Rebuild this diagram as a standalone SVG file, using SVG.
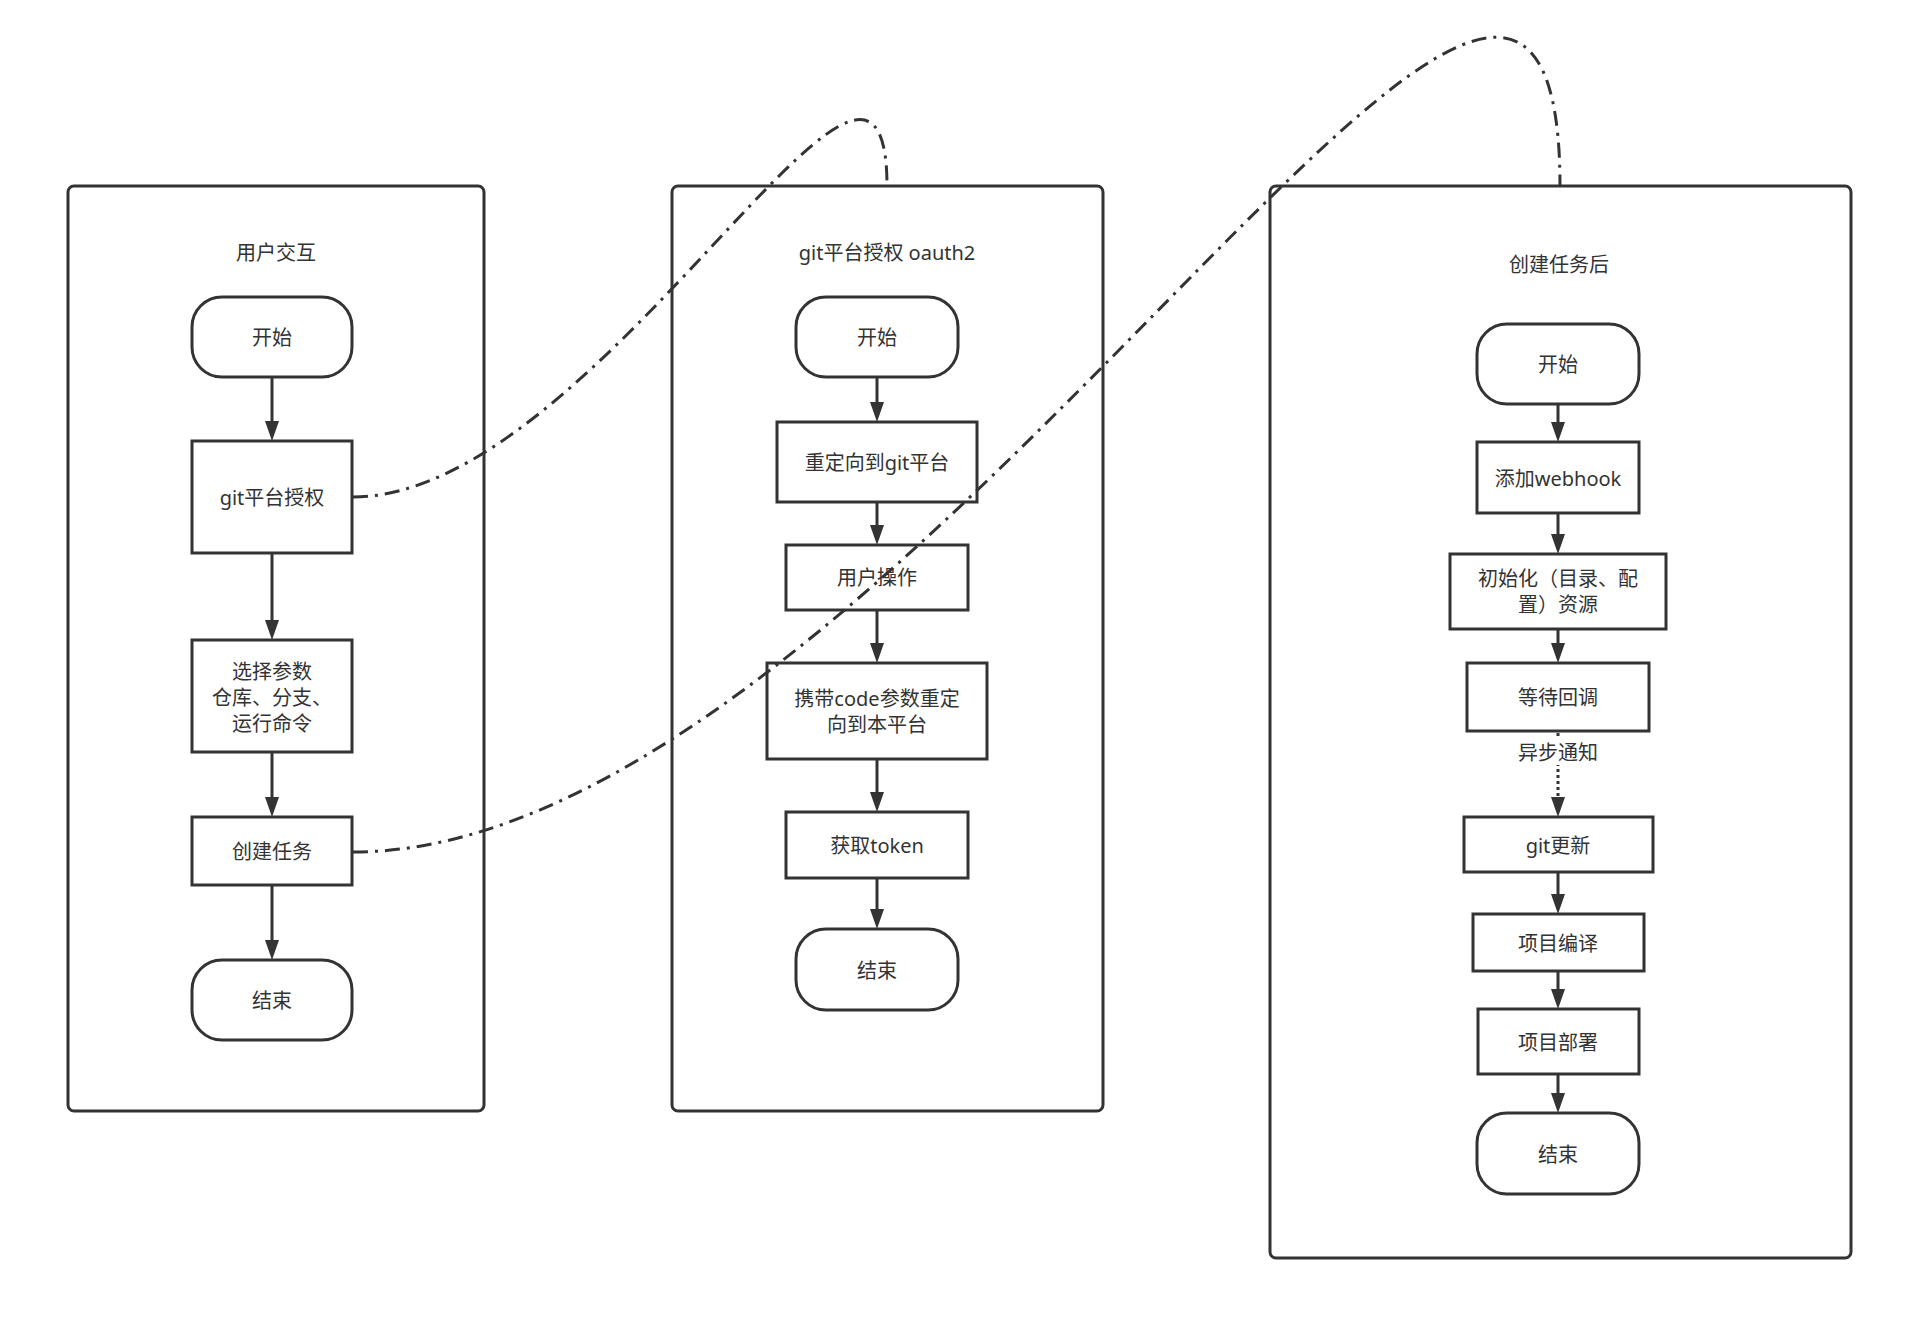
<svg xmlns="http://www.w3.org/2000/svg" width="1916" height="1326" viewBox="0 0 1916 1326">
<defs>
<style>
.bg{fill:#ffffff}
.ct{fill:none;stroke:#333;stroke-width:3}
.nd{fill:#ffffff;stroke:#333;stroke-width:3}
.t{font-family:"Noto Sans","Noto Sans CJK SC",sans-serif;font-size:20px;fill:#333;text-anchor:middle;dominant-baseline:central}
.ln{fill:none;stroke:#333;stroke-width:3}
.dot{fill:none;stroke:#333;stroke-width:3;stroke-dasharray:3 3}
.cv{fill:none;stroke:#333;stroke-width:3;stroke-dasharray:15 7 3 7}
</style>
<marker id="ah" markerUnits="userSpaceOnUse" markerWidth="22" markerHeight="16" refX="2" refY="8" orient="auto" viewBox="0 0 22 16">
<path d="M0,1 L20,8 L0,15 z" fill="#333"/>
</marker>
</defs>
<rect class="bg" x="0" y="0" width="1916" height="1326"/>

<g id="lane-user">
<rect class="ct" x="68" y="186" width="416" height="925" rx="6"/>
<text class="t" x="276" y="252">用户交互</text>
</g>
<g id="lane-oauth">
<rect class="ct" x="672" y="186" width="431" height="925" rx="6"/>
<text class="t" x="887" y="252">git平台授权 oauth2</text>
</g>
<g id="lane-task">
<rect class="ct" x="1270" y="186" width="581" height="1072" rx="6"/>
<text class="t" x="1559" y="264">创建任务后</text>
</g>

<g id="u-start"><rect class="nd" x="192" y="297" width="160" height="80" rx="30"/><text class="t" x="272" y="337">开始</text></g>
<g id="u-auth"><rect class="nd" x="192" y="441" width="160" height="112"/><text class="t" x="272" y="497">git平台授权</text></g>
<g id="u-params"><rect class="nd" x="192" y="640" width="160" height="112"/><text class="t" x="272" y="671">选择参数</text><text class="t" x="272" y="697">仓库、分支、</text><text class="t" x="272" y="723">运行命令</text></g>
<g id="u-create"><rect class="nd" x="192" y="817" width="160" height="68"/><text class="t" x="272" y="851">创建任务</text></g>
<g id="u-end"><rect class="nd" x="192" y="960" width="160" height="80" rx="30"/><text class="t" x="272" y="1000">结束</text></g>

<g id="o-start"><rect class="nd" x="796" y="297" width="162" height="80" rx="30"/><text class="t" x="877" y="337">开始</text></g>
<g id="o-redirect"><rect class="nd" x="777" y="422" width="200" height="80"/><text class="t" x="877" y="462">重定向到git平台</text></g>
<g id="o-user"><rect class="nd" x="786" y="545" width="182" height="65"/><text class="t" x="877" y="577">用户操作</text></g>
<g id="o-code"><rect class="nd" x="767" y="663" width="220" height="96"/><text class="t" x="877" y="698">携带code参数重定</text><text class="t" x="877" y="724">向到本平台</text></g>
<g id="o-token"><rect class="nd" x="786" y="812" width="182" height="66"/><text class="t" x="877" y="845">获取token</text></g>
<g id="o-end"><rect class="nd" x="796" y="929" width="162" height="81" rx="30"/><text class="t" x="877" y="970">结束</text></g>

<g id="t-start"><rect class="nd" x="1477" y="324" width="162" height="80" rx="30"/><text class="t" x="1558" y="364">开始</text></g>
<g id="t-webhook"><rect class="nd" x="1477" y="442" width="162" height="71"/><text class="t" x="1558" y="478">添加webhook</text></g>
<g id="t-init"><rect class="nd" x="1450" y="554" width="216" height="75"/><text class="t" x="1558" y="578">初始化（目录、配</text><text class="t" x="1558" y="604">置）资源</text></g>
<g id="t-wait"><rect class="nd" x="1467" y="663" width="182" height="68"/><text class="t" x="1558" y="697">等待回调</text></g>
<g id="t-git"><rect class="nd" x="1464" y="817" width="189" height="55"/><text class="t" x="1558" y="845">git更新</text></g>
<g id="t-build"><rect class="nd" x="1473" y="914" width="171" height="57"/><text class="t" x="1558" y="943">项目编译</text></g>
<g id="t-deploy"><rect class="nd" x="1478" y="1009" width="161" height="65"/><text class="t" x="1558" y="1042">项目部署</text></g>
<g id="t-end"><rect class="nd" x="1477" y="1113" width="162" height="81" rx="30"/><text class="t" x="1558" y="1154">结束</text></g>

<g id="connectors">
<path class="ln" d="M272,377 V423" marker-end="url(#ah)"/>
<path class="ln" d="M272,553 V622" marker-end="url(#ah)"/>
<path class="ln" d="M272,752 V799" marker-end="url(#ah)"/>
<path class="ln" d="M272,885 V942" marker-end="url(#ah)"/>

<path class="ln" d="M877,377 V404" marker-end="url(#ah)"/>
<path class="ln" d="M877,502 V527" marker-end="url(#ah)"/>
<path class="ln" d="M877,610 V645" marker-end="url(#ah)"/>
<path class="ln" d="M877,759 V794" marker-end="url(#ah)"/>
<path class="ln" d="M877,878 V911" marker-end="url(#ah)"/>

<path class="ln" d="M1558,404 V424" marker-end="url(#ah)"/>
<path class="ln" d="M1558,513 V536" marker-end="url(#ah)"/>
<path class="ln" d="M1558,629 V645" marker-end="url(#ah)"/>
<path class="dot" d="M1558,733 V799" marker-end="url(#ah)"/>
<rect class="bg" x="1516" y="739" width="84" height="26"/>
<text class="t" x="1558" y="752">异步通知</text>
<path class="ln" d="M1558,872 V896" marker-end="url(#ah)"/>
<path class="ln" d="M1558,971 V991" marker-end="url(#ah)"/>
<path class="ln" d="M1558,1074 V1095" marker-end="url(#ah)"/>

<path class="cv" d="M353,497 C600,497 887,-70 887,186"/>
<path class="cv" d="M353,852 C900,852 1560,-380 1560,186"/>
</g>
</svg>
